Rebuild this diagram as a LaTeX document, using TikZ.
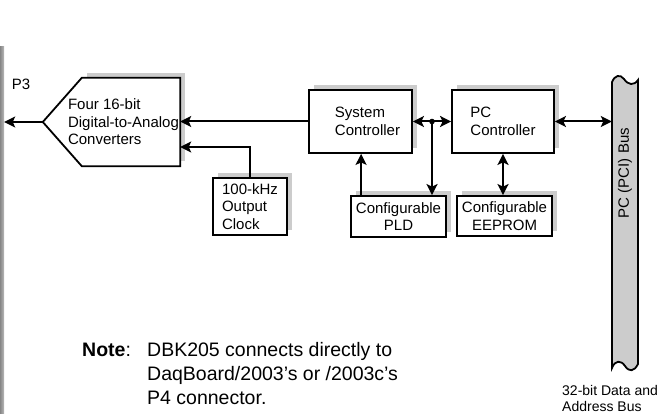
\documentclass[tikz,border=0pt]{standalone}
\usepackage{fontspec}
\setmainfont{Liberation Sans}
\usetikzlibrary{calc,arrows.meta,shadows,backgrounds}
\newcommand{\earrow}[2]{\draw[conn,->] (#1)--(#2);}
\newcommand{\ebiarrow}[2]{\draw[conn,<->] (#1)--(#2);}
\tikzset{
  conn/.style={line width=2pt},
  blk/.style={draw,line width=1.8pt,fill=white,inner xsep=2pt,align=left,
    font=\fontsize{15}{17.5}\selectfont,
    drop shadow={shadow xshift=5pt,shadow yshift=5pt,fill=gray!40,opacity=1}},
  lbl/.style={font=\fontsize{15}{17.5}\selectfont},
  notetxt/.style={anchor=base west,inner sep=0,font=\fontsize{19.5}{24}\selectfont},
}

\begin{document}
\begin{tikzpicture}[x=1pt,y=-1pt,>={Stealth[length=11pt,width=11pt,inset=2.5pt,fill=black]}]
  \useasboundingbox (0,0) rectangle (672,414);

  % left panel edge
  \node[draw=none,inner sep=0,minimum width=4pt,minimum height=367pt,
        left color=gray!95,right color=gray!55] (panel) at (2,230.5) {};
  \node[lbl] (p3) at (21,84) {P3};

  % converters
  \node[lbl,align=left,inner xsep=0,minimum width=137pt,minimum height=88pt] (dac) at (111.5,122)
    {\hspace*{24pt}Four 16-bit\\\hspace*{24pt}Digital-to-Analog\\\hspace*{24pt}Converters};
  \begin{scope}[on background layer]
    \fill[gray!40] ($(dac.north west)+(44,-5)$) rectangle ($(dac.south east)+(5,-5)$);
    \filldraw[line width=1.8pt,fill=white] (dac.west) -- ($(dac.north west)+(39,0)$)
      -- (dac.north east) -- (dac.south east) -- ($(dac.south west)+(39,0)$) -- cycle;
  \end{scope}

  \node[blk,minimum width=103pt,minimum height=63pt] (sc) at (360.5,121.5)
    {\hspace*{14pt}System\\\hspace*{14pt}Controller};
  \node[blk,minimum width=102pt,minimum height=63pt] (pcc) at (503,121.5) {PC\\Controller};
  \node[blk,minimum width=74pt,minimum height=57pt] (clk) at (250,206.5) {100-kHz\\Output\\Clock};
  \node[blk,align=center,minimum width=95pt,minimum height=41pt] (pld) at (398.5,216.5) {Configurable\\PLD};
  \node[blk,align=center,minimum width=95pt,minimum height=40pt] (eep) at (504.5,216) {Configurable\\EEPROM};

  % PCI bus
  \node[inner sep=0,minimum width=26pt,minimum height=284pt] (bus) at (625,222) {};
  \filldraw[line width=1.8pt,fill=gray!40] (612,82) .. controls (615,75) and (620,74) .. (624,79)
    .. controls (628,85) and (634,86) .. (638,80) -- (638,364)
    .. controls (634,372) and (629,372) .. (625,366)
    .. controls (621,360) and (615,360) .. (612,368) -- cycle;
  \node[lbl,rotate=90] (buslbl) at (625,173) {PC (PCI) Bus};
  \node[anchor=base west,inner sep=0,font=\fontsize{14}{16}\selectfont] (buscap) at (562,395)
    {\begin{tabular}[t]{@{}l@{}}32-bit Data and\\Address Bus\end{tabular}};

  % connections
  \coordinate (jn) at ($(sc.east)!0.5!(pcc.west)$);
  \coordinate (pldup) at ($(pld.north west)+(11,0)$);
  \earrow{dac.west}{dac.west -| panel.east}
  \earrow{sc.west}{sc.west -| dac.east}
  \draw[conn,->] (clk.north) |- ($(dac.east)+(0,25)$);
  \earrow{pldup}{pldup |- sc.south}
  \earrow{jn}{jn |- pld.north}
  \ebiarrow{sc.east}{pcc.west}
  \ebiarrow{pcc.south}{pcc.south |- eep.north}
  \ebiarrow{pcc.east}{pcc.east -| bus.west}
  \fill (jn) circle (2.8);

  \node[notetxt] (notehd) at (82,356) {\textbf{Note}:};
  \node[notetxt] (note) at (147,356)
    {\begin{tabular}[t]{@{}l@{}}
      DBK205 connects directly to\\
      DaqBoard/2003’s or /2003c’s\\
      P4 connector.
     \end{tabular}};
\end{tikzpicture}
\end{document}
